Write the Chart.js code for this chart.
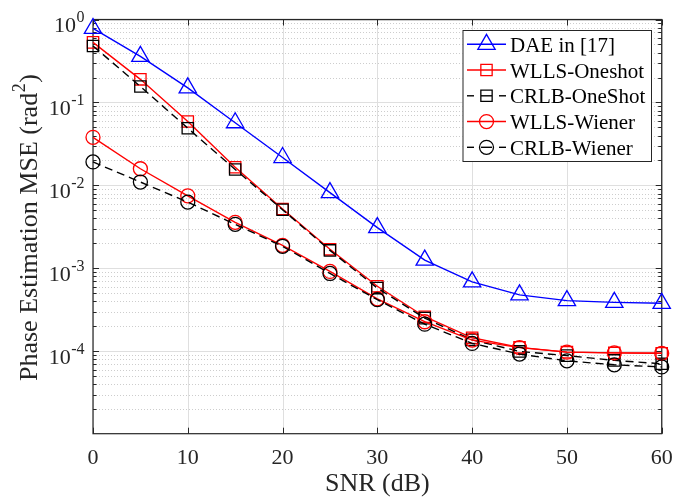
<!DOCTYPE html>
<html>
<head>
<meta charset="utf-8">
<script src="https://cdn.jsdelivr.net/npm/chart.js@4.4.1/dist/chart.umd.min.js"></script>
<style>
  html, body { margin: 0; padding: 0; background: #ffffff; }
  canvas { display: block; }
</style>
</head>
<body>
<canvas id="mseChart" width="673" height="501"></canvas>
<script>
// SNR sweep (dB)
const snrDb = [0, 5, 10, 15, 20, 25, 30, 35, 40, 45, 50, 55, 60];

// Phase estimation MSE (rad^2) for each method
const daeMse         = [0.78, 0.36, 0.15, 0.057, 0.0217, 0.0082, 0.0031, 0.00126, 0.00069, 0.00048, 0.00041, 0.00039, 0.00038];
const wllsOneshotMse = [0.53, 0.19, 0.059, 0.0166, 0.0052, 0.0017, 0.00061, 0.000262, 0.000146, 0.000112, 0.000098, 0.000096, 0.000095];
const crlbOneshotMse = [0.48, 0.156, 0.049, 0.0156, 0.0051, 0.00165, 0.00058, 0.000252, 0.000138, 0.0001, 0.000089, 0.000078, 0.000071];
const wllsWienerMse  = [0.038, 0.0159, 0.0075, 0.0036, 0.0019, 0.00092, 0.00043, 0.000228, 0.000137, 0.000111, 0.000098, 0.000096, 0.000095];
const crlbWienerMse  = [0.0192, 0.011, 0.0063, 0.0034, 0.00185, 0.00087, 0.00042, 0.000213, 0.000125, 0.000093, 0.000077, 0.000069, 0.000065];

const seriesNames = ['DAE in [17]', 'WLLS-Oneshot', 'CRLB-OneShot', 'WLLS-Wiener', 'CRLB-Wiener'];

// Axis ticks
const xTickValues = [0, 10, 20, 30, 40, 50, 60];
const yTickExponents = [0, -1, -2, -3, -4];

const xTitle = 'SNR (dB)';
const yTitleMain = 'Phase Estimation MSE (rad';
const yTitleSup = '2';
const yTitleEnd = ')';

const serifFont = '"Liberation Serif", "Times New Roman", serif';
const axisColor = '#262626';

function toPoints(values) {
  return snrDb.map((s, i) => ({ x: s, y: values[i] }));
}

const styles = [
  { color: '#0000ff', marker: 'triangle', radius: 10, dash: [] },
  { color: '#ff0000', marker: 'rect', radius: 8, dash: [] },
  { color: '#000000', marker: 'rect', radius: 8, dash: [8, 5] },
  { color: '#ff0000', marker: 'circle', radius: 7, dash: [] },
  { color: '#000000', marker: 'circle', radius: 7, dash: [8, 5] }
];
const seriesValues = [daeMse, wllsOneshotMse, crlbOneshotMse, wllsWienerMse, crlbWienerMse];

const datasets = seriesNames.map((name, i) => ({
  label: name,
  data: toPoints(seriesValues[i]),
  borderColor: styles[i].color,
  borderWidth: 1.4,
  borderDash: styles[i].dash,
  pointStyle: styles[i].marker,
  pointRadius: styles[i].radius,
  pointHoverRadius: styles[i].radius,
  pointBorderColor: styles[i].color,
  pointBackgroundColor: 'rgba(0,0,0,0)',
  pointBorderWidth: 1.3,
  fill: false,
  tension: 0,
  clip: false,
  order: seriesNames.length - i
}));

function strokeLine(ctx, x1, y1, x2, y2) {
  ctx.beginPath();
  ctx.moveTo(x1, y1);
  ctx.lineTo(x2, y2);
  ctx.stroke();
}

function drawMarker(ctx, style, cx, cy) {
  const r = style.radius;
  ctx.beginPath();
  if (style.marker === 'triangle') {
    ctx.moveTo(cx, cy - r);
    ctx.lineTo(cx + r * Math.sin(2 * Math.PI / 3), cy + r * 0.5);
    ctx.lineTo(cx - r * Math.sin(2 * Math.PI / 3), cy + r * 0.5);
    ctx.closePath();
  } else if (style.marker === 'rect') {
    const h = r * Math.SQRT1_2;
    ctx.rect(cx - h, cy - h, 2 * h, 2 * h);
  } else {
    ctx.arc(cx, cy, r, 0, Math.PI * 2);
  }
  ctx.stroke();
}

// Grid, box and ticks drawn under the data; labels and legend above
const axesPlugin = {
  id: 'axesDecor',
  beforeDatasetsDraw(chart) {
    const { ctx, chartArea: a, scales: { x, y } } = chart;
    ctx.save();
    ctx.lineWidth = 1;

    // minor dotted horizontal grid
    ctx.strokeStyle = '#cdcdcd';
    ctx.setLineDash([1, 2]);
    for (let d = -5; d < 0; d++) {
      for (let m = 2; m <= 9; m++) {
        const v = m * Math.pow(10, d);
        if (v < y.min || v > y.max) continue;
        const py = Math.round(y.getPixelForValue(v)) + 0.5;
        strokeLine(ctx, a.left, py, a.right, py);
      }
    }

    // major solid grid
    ctx.setLineDash([]);
    ctx.strokeStyle = '#dfdfdf';
    yTickExponents.forEach(e => {
      const py = Math.round(y.getPixelForValue(Math.pow(10, e))) + 0.5;
      strokeLine(ctx, a.left, py, a.right, py);
    });
    xTickValues.forEach(v => {
      const px = Math.round(x.getPixelForValue(v)) + 0.5;
      strokeLine(ctx, px, a.top, px, a.bottom);
    });

    // axes box
    ctx.strokeStyle = axisColor;
    ctx.lineWidth = 1.2;
    ctx.strokeRect(a.left, a.top, a.right - a.left, a.bottom - a.top);

    // inward ticks
    ctx.lineWidth = 1;
    xTickValues.forEach(v => {
      const px = Math.round(x.getPixelForValue(v)) + 0.5;
      strokeLine(ctx, px, a.bottom, px, a.bottom - 6);
      strokeLine(ctx, px, a.top, px, a.top + 6);
    });
    for (let d = -5; d <= 0; d++) {
      for (let m = 1; m <= 9; m++) {
        const v = m * Math.pow(10, d);
        if (v < y.min || v > y.max * 1.0001) continue;
        const len = m === 1 ? 6 : 3.5;
        const py = Math.round(y.getPixelForValue(v)) + 0.5;
        strokeLine(ctx, a.left, py, a.left + len, py);
        strokeLine(ctx, a.right, py, a.right - len, py);
      }
    }
    ctx.restore();
  },
  afterDatasetsDraw(chart) {
    const { ctx, chartArea: a, scales: { x, y } } = chart;
    ctx.save();
    ctx.fillStyle = axisColor;

    // x tick labels
    ctx.font = '22px ' + serifFont;
    ctx.textAlign = 'center';
    ctx.textBaseline = 'alphabetic';
    xTickValues.forEach(v => {
      ctx.fillText(String(v), x.getPixelForValue(v), a.bottom + 30.5);
    });

    // y tick labels: 10 with superscript exponent
    ctx.textAlign = 'left';
    yTickExponents.forEach(e => {
      const py = y.getPixelForValue(Math.pow(10, e));
      const expText = e === 0 ? '0' : '-' + String(-e);
      ctx.font = '16px ' + serifFont;
      const wExp = ctx.measureText(expText).width;
      ctx.font = '22px ' + serifFont;
      const wBase = ctx.measureText('10').width;
      const right = a.left - 9;
      const start = right - wExp - wBase;
      ctx.fillText('10', start, py + 12.5);
      ctx.font = '16px ' + serifFont;
      ctx.fillText(expText, start + wBase + 0.5, py + 2.5);
    });

    // x title
    ctx.font = '26px ' + serifFont;
    ctx.textAlign = 'center';
    ctx.fillText(xTitle, (a.left + a.right) / 2, 491);

    // y title, rotated, with superscript
    ctx.save();
    ctx.translate(36.5, (a.top + a.bottom) / 2 + 1);
    ctx.rotate(-Math.PI / 2);
    ctx.textAlign = 'left';
    ctx.font = '26px ' + serifFont;
    const w1 = ctx.measureText(yTitleMain).width;
    const w3 = ctx.measureText(yTitleEnd).width;
    ctx.font = '18px ' + serifFont;
    const w2 = ctx.measureText(yTitleSup).width;
    const total = w1 + w2 + w3 + 1;
    let tx = -total / 2;
    ctx.font = '26px ' + serifFont;
    ctx.fillText(yTitleMain, tx, 0);
    tx += w1 + 0.5;
    ctx.font = '18px ' + serifFont;
    ctx.fillText(yTitleSup, tx, -12);
    tx += w2 + 0.5;
    ctx.font = '26px ' + serifFont;
    ctx.fillText(yTitleEnd, tx, 0);
    ctx.restore();

    // legend
    const box = { left: 462.5, top: 30, right: 651, bottom: 161 };
    ctx.fillStyle = '#ffffff';
    ctx.fillRect(box.left, box.top, box.right - box.left, box.bottom - box.top);
    ctx.strokeStyle = axisColor;
    ctx.lineWidth = 1;
    ctx.strokeRect(box.left + 0.5, box.top + 0.5, box.right - box.left, box.bottom - box.top);
    ctx.font = '21px ' + serifFont;
    ctx.textAlign = 'left';
    ctx.textBaseline = 'alphabetic';
    seriesNames.forEach((name, i) => {
      const st = styles[i];
      const ry = 44.3 + i * 25.75;
      const cx = 486.5;
      ctx.strokeStyle = st.color;
      ctx.lineWidth = 1.4;
      if (st.dash.length) {
        strokeLine(ctx, 467, ry, 474, ry);
        strokeLine(ctx, 481, ry, 492, ry);
        strokeLine(ctx, 499, ry, 506, ry);
      } else {
        strokeLine(ctx, 467, ry, 506, ry);
      }
      ctx.lineWidth = 1.3;
      drawMarker(ctx, st, cx, ry);
      ctx.fillStyle = '#000000';
      ctx.fillText(name, 510, ry + 7.5);
    });
    ctx.restore();
  }
};

new Chart(document.getElementById('mseChart'), {
  type: 'line',
  data: { datasets },
  options: {
    responsive: false,
    devicePixelRatio: 1,
    animation: false,
    events: [],
    layout: { padding: { left: 93, right: 10.5, top: 19.5, bottom: 67.3 } },
    scales: {
      x: { type: 'linear', min: 0, max: 60, display: false },
      y: { type: 'logarithmic', min: 1.02e-5, max: 1, display: false }
    },
    plugins: {
      legend: { display: false },
      tooltip: { enabled: false }
    }
  },
  plugins: [axesPlugin]
});
</script>
</body>
</html>
